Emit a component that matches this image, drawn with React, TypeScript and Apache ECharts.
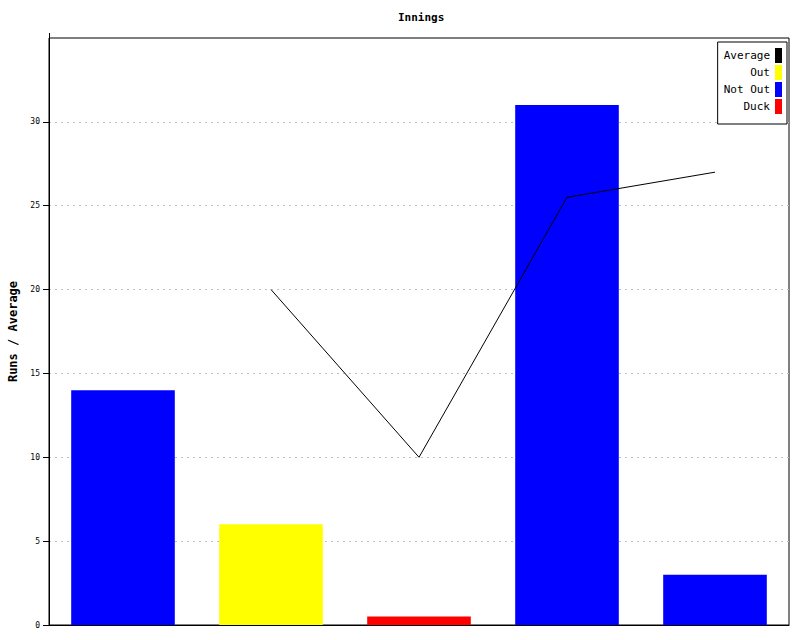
import React, { useEffect, useRef } from "react";
import * as echarts from "echarts";

const categories = ["1", "2", "3", "4", "5"];
const notOut = [14, null, null, 31, 3];
const out = [null, 6, null, null, null];
const duck = [null, null, 0.5, null, null];
const average = [null, 20, 10, 25.5, 27];
const yTicks = [0, 5, 10, 15, 20, 25, 30];

const FONT = "DejaVu Sans Mono";

export default function App() {
  const ref = useRef<HTMLDivElement>(null);
  useEffect(() => {
    const chart = echarts.init(ref.current!, null, { renderer: "svg" });
    chart.setOption({
      animation: false,
      backgroundColor: "#fff",
      title: {
        text: "Innings",
        left: 393,
        top: 7,
        textStyle: { fontFamily: FONT, fontSize: 11, fontWeight: "bold", color: "#000" },
      },
      legend: {
        right: 13,
        top: 42,
        orient: "vertical",
        align: "right",
        icon: "rect",
        itemWidth: 7,
        itemHeight: 15,
        itemGap: 2,
        padding: [6, 5, 10, 6],
        borderColor: "#000",
        borderWidth: 1,
        backgroundColor: "#fff",
        textStyle: { fontFamily: FONT, fontSize: 11, color: "#000" },
        data: [
          { name: "Average", itemStyle: { color: "#000" } },
          { name: "Out" },
          { name: "Not Out" },
          { name: "Duck" },
        ],
      },
      grid: {
        left: 49,
        right: 11,
        top: 38,
        bottom: 15,
        show: true,
        borderColor: "#000",
        borderWidth: 1,
        containLabel: false,
        outerBoundsMode: "none",
      },
      graphic: [
        { type: "line", shape: { x1: 49.5, y1: 33, x2: 49.5, y2: 38 }, style: { stroke: "#000", lineWidth: 1 } },
        { type: "line", shape: { x1: 43, y1: 625.5, x2: 49, y2: 625.5 }, style: { stroke: "#000", lineWidth: 1 } },
      ],
      xAxis: {
        type: "category",
        data: categories,
        axisLabel: { show: false },
        axisTick: { show: false },
        axisLine: { lineStyle: { color: "#000", width: 1 } },
      },
      yAxis: {
        type: "value",
        min: 0,
        max: 35,
        interval: 5,
        name: "Runs / Average",
        nameLocation: "middle",
        nameGap: 30,
        nameTextStyle: { fontFamily: FONT, fontSize: 12, fontWeight: "bold", color: "#000" },
        axisLine: { show: true, lineStyle: { color: "#000", width: 1 } },
        axisTick: { show: true, length: 6, lineStyle: { color: "#000", width: 1 }, customValues: yTicks },
        axisLabel: {
          fontFamily: FONT,
          fontSize: 8,
          color: "#000",
          margin: 9,
          customValues: yTicks,
          formatter: (v: number) => (yTicks.includes(v) ? String(v) : ""),
        },
        splitLine: { show: true, lineStyle: { color: "#c0c0c0", type: [2, 4] } },
      },
      series: [
        {
          name: "Not Out",
          type: "bar",
          data: notOut,
          barWidth: "70%",
          barGap: "-100%",
          itemStyle: { color: "#0000ff" },
        },
        {
          name: "Out",
          type: "bar",
          data: out,
          barWidth: "70%",
          barGap: "-100%",
          itemStyle: { color: "#ffff00" },
        },
        {
          name: "Duck",
          type: "bar",
          data: duck,
          barWidth: "70%",
          barGap: "-100%",
          itemStyle: { color: "#ff0000" },
        },
        {
          name: "Average",
          type: "line",
          data: average,
          symbol: "none",
          lineStyle: { color: "#000", width: 1 },
          itemStyle: { color: "#000" },
          z: 5,
        },
      ],
    });
    return () => chart.dispose();
  }, []);
  return <div ref={ref} style={{ width: 800, height: 640, position: "absolute", left: 0, top: 0 }} />;
}
